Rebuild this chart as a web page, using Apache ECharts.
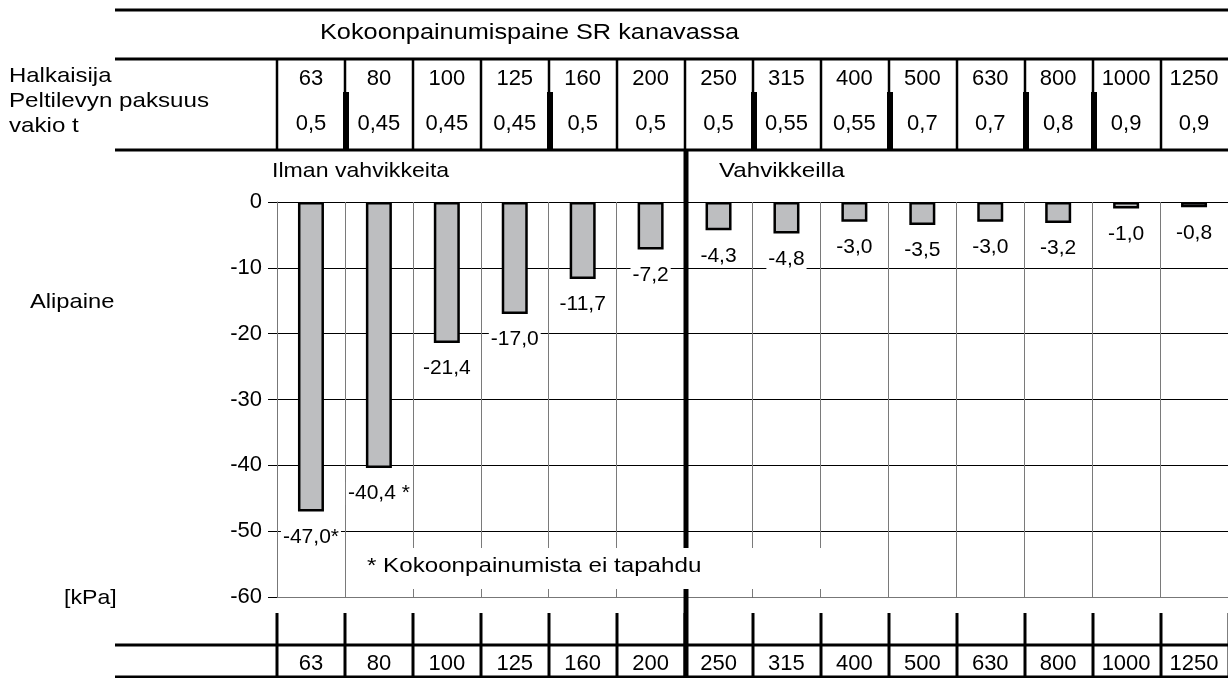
<!DOCTYPE html>
<html>
<head>
<meta charset="utf-8">
<script src="https://cdn.jsdelivr.net/npm/echarts@6/dist/echarts.min.js"></script>
<style>
html,body{margin:0;padding:0;background:#fff;}
#chart{width:1228px;height:678px;}
</style>
</head>
<body>
<div id="chart"></div>
<script>
// ---- data ----
const diameters = ['63','80','100','125','160','200','250','315','400','500','630','800','1000','1250'];
const thickness = ['0,5','0,45','0,45','0,45','0,5','0,5','0,5','0,55','0,55','0,7','0,7','0,8','0,9','0,9'];
const pressure = [-47.0,-40.4,-21.4,-17.0,-11.7,-7.2,-4.3,-4.8,-3.0,-3.5,-3.0,-3.2,-1.0,-0.8];
const noteMarks = ['*',' *','','','','','','','','','','','',''];
const yTicks = {min:-60, max:0, interval:10};
const title = 'Kokoonpainumispaine SR kanavassa';
const rowLabels = ['Halkaisija','Peltilevyn paksuus','vakio t'];
const groupLabels = ['Ilman vahvikkeita','Vahvikkeilla'];
const reinforcedFrom = 6; // first category with reinforcement
const yName = 'Alipaine';
const unit = '[kPa]';
const footnote = '* Kokoonpainumista ei tapahdu';

// ---- layout ----
const FONT = '"Liberation Sans", Arial, Helvetica, sans-serif';
const L = 277, W = 952, T = 202, H = 395;
const n = diameters.length;
const colW = W / n;
const bx = i => L + i * colW;
const XL = 115, XR = 1228;

function fmt(v){ return v.toFixed(1).replace('.', ','); }

const g = [];
function hline(y, x1, x2, w){ g.push({type:'line', z:20, shape:{x1:x1,y1:y,x2:x2,y2:y}, style:{stroke:'#000', lineWidth:w}}); }
function vline(x, y1, y2, w){ g.push({type:'line', z:20, shape:{x1:x,y1:y1,x2:x,y2:y2}, style:{stroke:'#000', lineWidth:w}}); }
function text(t, x, y, size, sx){ g.push({type:'text', z:30, x:x, y:y, scaleX: sx||1, style:{text:t, font: size+'px '+FONT, fill:'#000', textAlign:'left', textVerticalAlign:'middle'}}); }

// header table
hline(10, XL, XR, 3);
hline(59, XL, XR, 3);
hline(150, XL, XR, 3);
for (let i = 0; i < n; i++) vline(bx(i), 59, 150, 2.5);
for (let i = 1; i < n; i++) {
  if (thickness[i] !== thickness[i-1]) {
    g.push({type:'rect', z:21, shape:{x:bx(i)-2, y:92, width:6, height:58}, style:{fill:'#000'}});
  }
}
// bottom table
hline(645, XL, XR, 3);
hline(677, XL, XR, 3);
for (let i = 0; i <= n; i++) vline(bx(i), 613, 678, 3);
// footnote white box
g.push({type:'rect', z:10, shape:{x:355, y:548, width:480, height:41}, style:{fill:'#fff'}});
// reinforcement divider
g.push({type:'rect', z:21, shape:{x:bx(reinforcedFrom)-1.5, y:150, width:5, height:398}, style:{fill:'#000'}});
g.push({type:'rect', z:21, shape:{x:bx(reinforcedFrom)-1.5, y:589, width:5, height:89}, style:{fill:'#000'}});

// texts
text(title, 320, 33, 22, 1.15);
text(rowLabels[0], 9, 76, 21, 1.14);
text(rowLabels[1], 9, 101, 21, 1.15);
text(rowLabels[2], 9, 126, 21, 1.15);
text(groupLabels[0], 272, 171, 21, 1.1);
text(groupLabels[1], 719, 171, 21, 1.15);
text(yName, 30, 302, 21, 1.13);
text(unit, 64, 598, 21, 1.1);
text(footnote, 367, 566, 21, 1.15);

const chart = echarts.init(document.getElementById('chart'));
chart.setOption({
  animation: false,
  backgroundColor: '#fff',
  textStyle: {fontFamily: FONT},
  grid: {left: L, top: T, width: W, height: H, containLabel: false},
  xAxis: [
    {
      type: 'category', data: diameters, position: 'bottom',
      axisLine: {show: true, onZero: false, lineStyle: {color: '#777', width: 1}},
      axisTick: {show: false},
      axisLabel: {interval: 0, margin: 67, verticalAlign: 'middle', fontSize: 22, color: '#000', fontFamily: FONT},
      splitLine: {show: true, interval: 0, lineStyle: {color: '#7a7a7a', width: 1}}
    },
    {
      type: 'category', data: diameters, position: 'top', gridIndex: 0,
      axisLine: {show: false}, axisTick: {show: false}, splitLine: {show: false},
      axisLabel: {interval: 0, margin: 123, verticalAlign: 'middle', fontSize: 22, color: '#000', fontFamily: FONT}
    },
    {
      type: 'category', data: thickness, position: 'top', gridIndex: 0,
      axisLine: {show: false}, axisTick: {show: false}, splitLine: {show: false},
      axisLabel: {interval: 0, margin: 78, verticalAlign: 'middle', fontSize: 22, color: '#000', fontFamily: FONT}
    }
  ],
  yAxis: {
    type: 'value', min: yTicks.min, max: yTicks.max, interval: yTicks.interval,
    axisLine: {show: true, lineStyle: {color: '#777', width: 1}},
    axisTick: {show: true, length: 9, lineStyle: {color: '#000', width: 1}},
    axisLabel: {margin: 15, fontSize: 22, color: '#000', fontFamily: FONT},
    splitLine: {show: true, lineStyle: {color: '#000', width: 1}}
  },
  series: [{
    type: 'bar', xAxisIndex: 0, data: pressure, barWidth: 26,
    itemStyle: {color: '#bdbec0', borderColor: '#000', borderWidth: 2.5},
    label: {
      show: true, position: 'bottom', distance: 14,
      fontSize: 21, color: '#000', fontFamily: FONT,
      backgroundColor: '#fff', padding: [1, 2],
      formatter: p => fmt(p.value) + noteMarks[p.dataIndex]
    }
  }],
  graphic: {elements: g}
});
</script>
</body>
</html>
